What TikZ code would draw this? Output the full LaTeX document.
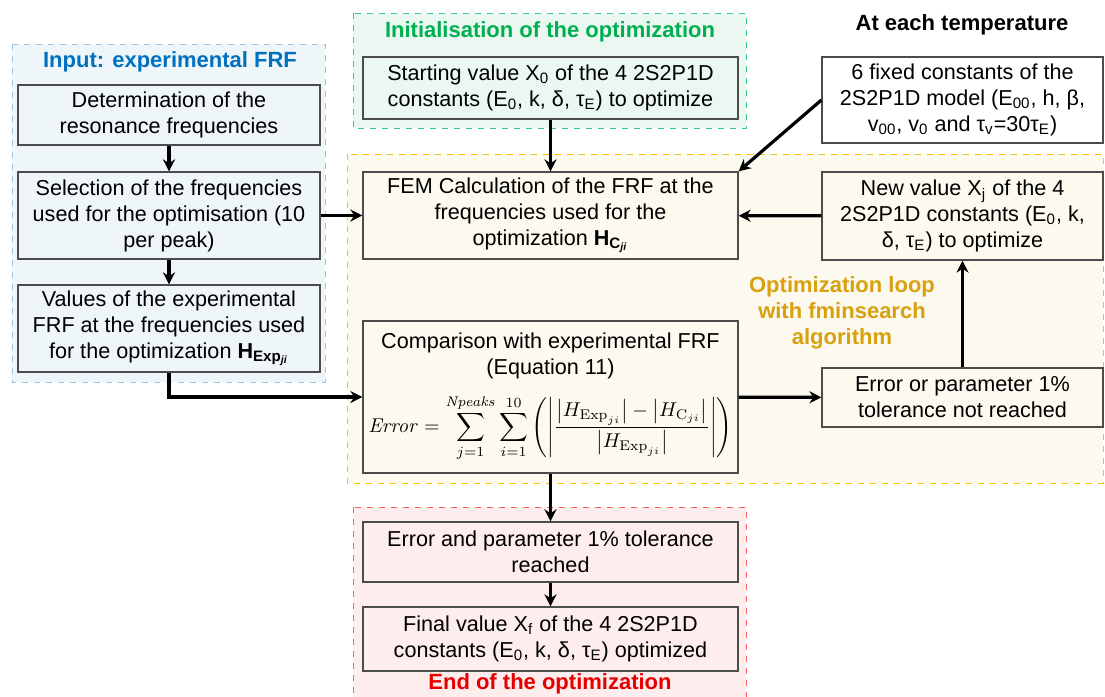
\documentclass[tikz,border=0pt]{standalone}
\usepackage[no-math]{fontspec}
\setmainfont{Liberation Sans}
\usetikzlibrary{arrows.meta}
\definecolor{inblue}{HTML}{0070C0}
\definecolor{ingreen}{HTML}{00B050}
\definecolor{loopgold}{HTML}{D9A010}
\definecolor{endred}{HTML}{E60000}
\definecolor{blueback}{HTML}{EEF6F9}
\definecolor{blueline}{HTML}{9DC3E6}
\definecolor{greenback}{HTML}{EAF8F1}
\definecolor{greenline}{HTML}{33CC80}
\definecolor{goldback}{HTML}{FCF9EE}
\definecolor{goldline}{HTML}{FFC000}
\definecolor{redback}{HTML}{FDEDED}
\definecolor{redline}{HTML}{FF6060}
\begin{document}
\begin{tikzpicture}[x=0.5pt,y=-0.5pt,
  box/.style={draw=black!70, line width=0.6pt, align=center, inner sep=2pt,
    font=\fontsize{10.8}{13}\selectfont},
  flow/.style={-{Stealth[length=6pt,width=6pt]}, line width=1.6pt},
  title/.style={font=\fontsize{11}{13}\selectfont\bfseries, align=center}]
\useasboundingbox (0,0) rectangle (1105,697);
% zones
\draw[dashed, draw=blueline, fill=blueback] (12,44) rectangle (325,382);
\draw[dashed, draw=greenline, fill=greenback] (353,13) rectangle (746,128);
\draw[dashed, draw=goldline, fill=goldback] (347,154) rectangle (1103,483);
\draw[dashed, draw=redline, fill=redback] (353,507) rectangle (746,700);
\node[title, text=inblue] (tin) at (170,62) {Input: experimental FRF};
\node[title, text=ingreen] (tinit) at (550,32) {Initialisation of the optimization};
\node[title] (ttemp) at (962,25) {At each temperature};
\node[title, text=loopgold] (tloop) at (842,313) {Optimization loop\\with fminsearch\\algorithm};
\node[title, text=endred] (tend) at (550,684) {End of the optimization};
% input
\node[box, minimum width=151pt, minimum height=30pt] (det) at (169,115)
  {Determination of the\\resonance frequencies};
\node[box, minimum width=151pt, minimum height=43.5pt] (sel) at (169,215.5)
  {Selection of the frequencies\\used for the optimisation (10\\per peak)};
\node[box, minimum width=151pt, minimum height=43.5pt] (val) at (169,328.5)
  {Values of the experimental\\FRF at the frequencies used\\for the optimization
   \textbf{H}\textsubscript{\textbf{Exp}\textsubscript{\textbf{\textit{ji}}}}};
% initialisation and constants
\node[box, minimum width=187.5pt, minimum height=31pt] (start) at (550.5,88)
  {Starting value X\textsubscript{0} of the 4 2S2P1D\\constants (E\textsubscript{0}, k, δ, τ\textsubscript{E}) to optimize};
\node[box, fill=white, minimum width=140.5pt, minimum height=43pt] (fixed) at (962.5,100)
  {6 fixed constants of the\\2S2P1D model (E\textsubscript{00}, h, β,\\v\textsubscript{00}, v\textsubscript{0} and τ\textsubscript{v}=30τ\textsubscript{E})};
% loop
\node[box, minimum width=187.5pt, minimum height=43.5pt] (fem) at (550.5,215.5)
  {FEM Calculation of the FRF at the\\frequencies used for the\\optimization
   \textbf{H}\textsubscript{\textbf{C}\textsubscript{\textbf{\textit{ji}}}}};
\node[box, minimum width=187.5pt, minimum height=76pt] (comp) at (550.5,397)
  {Comparison with experimental FRF\\(Equation 11)\\[7pt]
   \fontsize{9.8}{10}\selectfont
   $\mathit{Error}=\displaystyle\sum_{j=1}^{\mathit{Npeaks}}\sum_{i=1}^{10}
   \left(\left|\frac{\bigl|H_{\mathrm{Exp}_{ji}}\bigr|-\bigl|H_{\mathrm{C}_{ji}}\bigr|}{\bigl|H_{\mathrm{Exp}_{ji}}\bigr|}\right|\right)$};
\node[box, minimum width=140.5pt, minimum height=44pt] (newv) at (962.5,216)
  {New value X\textsubscript{j} of the 4\\2S2P1D constants (E\textsubscript{0}, k,\\δ, τ\textsubscript{E}) to optimize};
\node[box, minimum width=140.5pt, minimum height=29.5pt] (errnot) at (962.5,397.5)
  {Error or parameter 1\%\\tolerance not reached};
% end
\node[box, minimum width=187.5pt, minimum height=30pt] (errand) at (550.5,552)
  {Error and parameter 1\% tolerance\\reached};
\node[box, minimum width=187.5pt, minimum height=32pt] (final) at (550.5,639)
  {Final value X\textsubscript{f} of the 4 2S2P1D\\constants (E\textsubscript{0}, k, δ, τ\textsubscript{E}) optimized};
% arrows
\draw[flow] (det) -- (sel);
\draw[flow] (sel) -- (val);
\draw[flow] (sel) -- (fem);
\draw[flow] (val.south) |- (comp.west);
\draw[flow] (start) -- (fem);
\draw[flow] (fixed.west) -- (fem.north east);
\draw[flow] (newv) -- (fem);
\draw[flow] (errnot) -- (newv);
\draw[flow] (comp) -- (errnot);
\draw[flow] (comp) -- (errand);
\draw[flow] (errand) -- (final);
\end{tikzpicture}
\end{document}
